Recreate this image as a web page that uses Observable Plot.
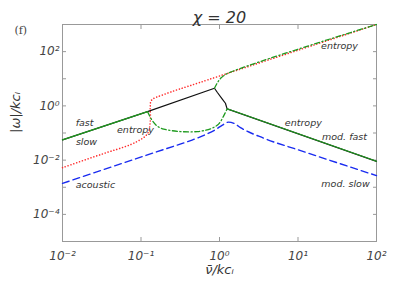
<!DOCTYPE html>
<html><head><meta charset="utf-8">
<script src="https://cdn.jsdelivr.net/npm/d3@7"></script>
<script src="https://cdn.jsdelivr.net/npm/@observablehq/plot@0.6"></script>
<style>body{margin:0;background:#fff}</style>
</head><body><div id="chart"></div>
<script>
// fast mode (black solid)
const fastX = [0.01, 0.121, 0.863, 0.935, 1.08, 1.19, 1.25, 1.45, 100];
const fastY = [0.0556, 0.616, 4.46, 3.18, 1.81, 1.25, 0.775, 0.671, 0.00904];
// green solid branches
const greenLeftX = [0.01, 0.121];
const greenLeftY = [0.0556, 0.616];
const greenRightX = [1.25, 1.45, 100];
const greenRightY = [0.775, 0.671, 0.00904];
// green dash-dot lower arc
const arcX = [0.121, 0.139, 0.161, 0.195, 0.318, 0.520, 0.767, 0.980, 1.135, 1.25];
const arcY = [0.616, 0.287, 0.180, 0.139, 0.113, 0.113, 0.142, 0.217, 0.439, 0.775];
// green dash-dot upper branch
const upX = [0.863, 0.944, 1.06, 1.30, 100];
const upY = [4.46, 7.24, 11.1, 16.2, 1000];
// entropy asymptote (red dotted)
const entX = [0.01, 0.0305, 0.0734, 0.0986, 0.114, 0.125, 0.130, 0.132, 0.131, 0.136, 0.194, 0.573, 100];
const entY = [0.00528, 0.0160, 0.0373, 0.0570, 0.0769, 0.113, 0.204, 0.403, 0.90, 1.61, 2.61, 7.43, 1000];
// acoustic / mod. slow (blue dashed)
const acX = [0.01, 0.0548, 0.205, 0.428, 0.664, 0.889, 1.09, 1.30, 1.55, 1.85, 3.64, 10.8, 100];
const acY = [0.00139, 0.00724, 0.0259, 0.0525, 0.0873, 0.1334, 0.196, 0.252, 0.222, 0.158, 0.0648, 0.0224, 0.00268];
// annotations
const labelText = ["fast", "slow", "entropy", "acoustic", "entropy", "entropy", "mod. fast", "mod. slow"];
const labelX = [0.0191, 0.0202, 0.0851, 0.0263, 33.8, 11.7, 39.1, 40.3];
const labelY = [0.242, 0.0482, 0.128, 0.00119, 168, 0.242, 0.0706, 0.00136];
// ticks
const xTicks = [0.01, 0.1, 1, 10, 100];
const xTickLabels = ["10⁻²", "10⁻¹", "10⁰", "10¹", "10²"];
const xMinor = [0.1, 1, 10];
const yTicks = [1e-4, 1e-2, 1, 1e2];
const yTickLabels = ["10⁻⁴", "10⁻²", "10⁰", "10²"];
const yMinor = [1e-4, 1e-3, 1e-2, 1e-1, 1, 10, 100];

const pts = (xs, ys) => xs.map((x, i) => ({x, y: ys[i]}));
const labels = labelText.map((t, i) => ({t, x: labelX[i], y: labelY[i]}));
const fmt = (ticks, labs) => d => labs[ticks.findIndex(t => Math.abs(Math.log10(t) - Math.log10(d)) < 1e-6)];

const chart = Plot.plot({
  width: 407, height: 291,
  marginLeft: 62, marginRight: 31, marginTop: 24, marginBottom: 50,
  style: {fontFamily: "DejaVu Sans", fontStyle: "italic", background: "#fff", color: "#444"},
  x: {type: "log", domain: [0.01, 100]},
  y: {type: "log", domain: [1e-5, 1e3]},
  marks: [
    Plot.frame({stroke: "#999"}),
    Plot.axisX({ticks: xTicks, tickFormat: fmt(xTicks, xTickLabels), tickSize: 0, tickPadding: 10, fontSize: 12, label: null, fill: "#444"}),
    Plot.axisY({ticks: yTicks, tickFormat: fmt(yTicks, yTickLabels), tickSize: 0, tickPadding: 3, fontSize: 12, label: null, fill: "#444"}),
    Plot.axisX({anchor: "bottom", ticks: xMinor, tickSize: -4, text: null, label: null, stroke: "#999"}),
    Plot.axisX({anchor: "top", ticks: xMinor, tickSize: -4, text: null, label: null, stroke: "#999"}),
    Plot.axisY({anchor: "left", ticks: yMinor, tickSize: -4, text: null, label: null, stroke: "#999"}),
    Plot.axisY({anchor: "right", ticks: yMinor, tickSize: -4, text: null, label: null, stroke: "#999"}),
    Plot.line(pts(entX, entY), {x: "x", y: "y", stroke: "#ff2a2a", strokeWidth: 1.6, strokeDasharray: "0.01,3", strokeLinecap: "round", curve: "catmull-rom"}),
    Plot.line(pts(acX, acY), {x: "x", y: "y", stroke: "#1a2cf0", strokeWidth: 1.4, strokeDasharray: "7,4", curve: "monotone-x"}),
    Plot.line(pts(fastX, fastY), {x: "x", y: "y", stroke: "#111", strokeWidth: 1.2}),
    Plot.line(pts(greenLeftX, greenLeftY), {x: "x", y: "y", stroke: "#1e9a1e", strokeWidth: 1.3}),
    Plot.line(pts(greenRightX, greenRightY), {x: "x", y: "y", stroke: "#1e9a1e", strokeWidth: 1.1}),
    Plot.line(pts(arcX, arcY), {x: "x", y: "y", stroke: "#1e9a1e", strokeWidth: 1.3, strokeDasharray: "5,2.5,1.2,2.5", curve: "catmull-rom"}),
    Plot.line(pts(upX, upY), {x: "x", y: "y", stroke: "#1e9a1e", strokeWidth: 1.3, strokeDasharray: "5,2.5,1.2,2.5", curve: "catmull-rom"}),
    Plot.text(labels, {x: "x", y: "y", text: "t", fontSize: 9.5, fill: "#333"}),
    Plot.text(["χ = 20"], {frameAnchor: "top", dy: -13, fontSize: 16, fill: "#333", style: "word-spacing:3px"}),
    Plot.text(["(f)"], {frameAnchor: "top-left", dx: -48, dy: 2, fontSize: 11, fill: "#444", fontFamily: "DejaVu Serif", fontStyle: "normal"}),
    Plot.text(["ν̄/kcᵢ"], {frameAnchor: "bottom", dy: 32, fontSize: 13, fill: "#333"}),
    Plot.text(["|ω|/kcᵢ"], {frameAnchor: "left", dx: -47, rotate: -90, fontSize: 13, fill: "#333"})
  ]
});
document.getElementById("chart").append(chart);
</script>
</body></html>
